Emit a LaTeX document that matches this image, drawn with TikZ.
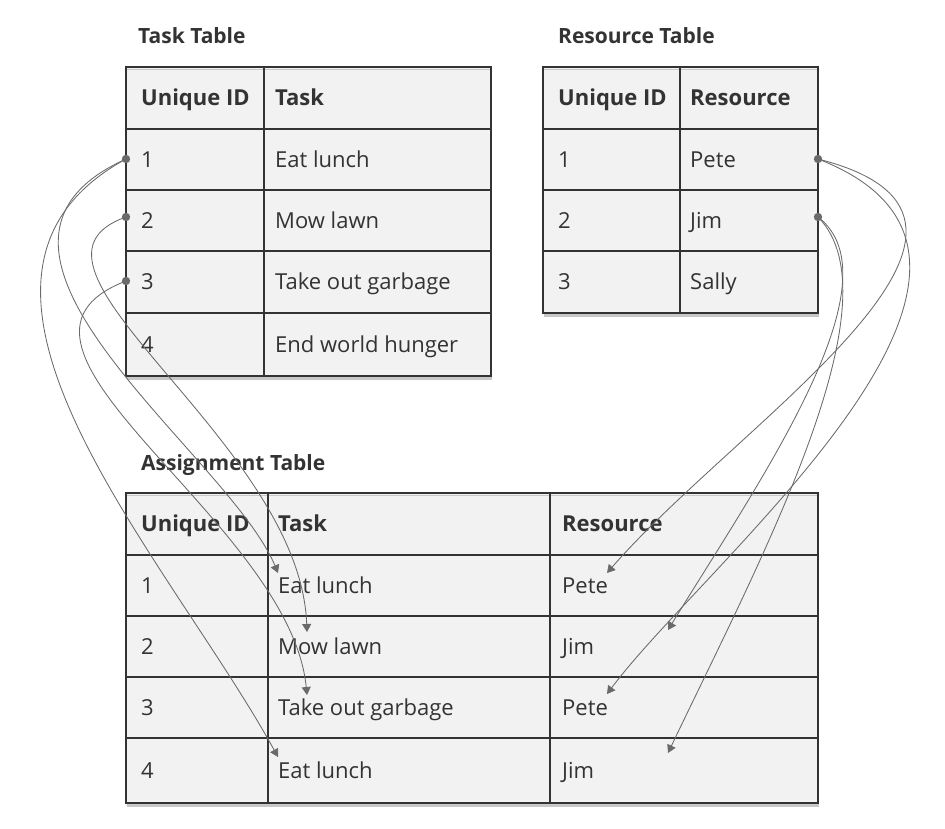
\documentclass[tikz,border=0pt]{standalone}
\usepackage{fontspec}
\setmainfont{Open Sans}
\usetikzlibrary{arrows.meta}
\definecolor{txt}{HTML}{333333}
\definecolor{cellfill}{HTML}{F2F2F2}
\definecolor{edgecol}{HTML}{333333}
\definecolor{shadowcol}{HTML}{C8C8C8}
\definecolor{linkgray}{HTML}{6A6A6A}
\begin{document}
\begin{tikzpicture}[x=1pt,y=-1pt,
  every node/.style={text=txt, inner sep=0pt},
  tabtitle/.style={anchor=base west, font=\fontsize{21}{25}\selectfont\bfseries},
  hd/.style={anchor=west, font=\fontsize{22}{26}\selectfont\bfseries, text height=15.5pt, text depth=0pt},
  cl/.style={anchor=west, font=\fontsize{22}{26}\selectfont, text height=15.5pt, text depth=0pt},
  tblborder/.style={draw=edgecol, line width=2.6pt},
  thicksep/.style={draw=edgecol, line width=2.4pt},
  thinsep/.style={draw=edgecol, line width=1.3pt},
  innerlight/.style={draw=shadowcol, line width=1.4pt},
  conn/.style={draw=linkgray, line width=0.85pt, -{Triangle[length=8pt,width=9pt]}},
  dotfill/.style={fill=linkgray},
]
\useasboundingbox (0,0) rectangle (945,828);

% ---------- Task table ----------
\node[tabtitle] (ttitle) at (138,43) {Task Table};
\fill[shadowcol] (127,70) rectangle (492,379.5);
\fill[cellfill] (126,67) rectangle (491,376);
\draw[innerlight] (127,69.6) -- (490,69.6);
\draw[thinsep] (126,190) -- (491,190) (126,251) -- (491,251) (126,313) -- (491,313);
\draw[thicksep] (126,129) -- (491,129) (264,67) -- (264,376);
\draw[tblborder] (126,67) rectangle (491,376);
\node[hd] (th1) at (141,98) {Unique ID};
\node[hd] (th2) at (275,98) {Task};
\node[cl] (t1a) at (141,159.5) {1};
\node[cl] (t1b) at (275,159.5) {Eat lunch};
\node[cl] (t2a) at (141,220.5) {2};
\node[cl] (t2b) at (275,220.5) {Mow lawn};
\node[cl] (t3a) at (141,282) {3};
\node[cl] (t3b) at (275,282) {Take out garbage};
\node[cl] (t4a) at (141,344.5) {4};
\node[cl] (t4b) at (275,344.5) {End world hunger};

% ---------- Resource table ----------
\node[tabtitle] (rtitle) at (558,43) {Resource Table};
\fill[shadowcol] (544,70) rectangle (819,316.5);
\fill[cellfill] (543,67) rectangle (818,313);
\draw[innerlight] (544,69.6) -- (817,69.6);
\draw[thinsep] (543,190) -- (818,190) (543,251) -- (818,251);
\draw[thicksep] (543,129) -- (818,129) (680,67) -- (680,313);
\draw[tblborder] (543,67) rectangle (818,313);
\node[hd] (rh1) at (558,98) {Unique ID};
\node[hd] (rh2) at (690,98) {Resource};
\node[cl] (r1a) at (558,159.5) {1};
\node[cl] (r1b) at (690,159.5) {Pete};
\node[cl] (r2a) at (558,220.5) {2};
\node[cl] (r2b) at (690,220.5) {Jim};
\node[cl] (r3a) at (558,282) {3};
\node[cl] (r3b) at (690,282) {Sally};

% ---------- Assignment table ----------
\node[tabtitle] (atitle) at (141,470) {Assignment Table};
\fill[shadowcol] (127,496) rectangle (819,806.5);
\fill[cellfill] (126,493) rectangle (818,803);
\draw[innerlight] (127,495.6) -- (817,495.6);
\draw[thinsep] (126,616) -- (818,616) (126,677) -- (818,677) (126,738) -- (818,738);
\draw[thicksep] (126,555) -- (818,555) (268,493) -- (268,803) (550,493) -- (550,803);
\draw[tblborder] (126,493) rectangle (818,803);
\node[hd] (ah1) at (141,524) {Unique ID};
\node[hd] (ah2) at (278,524) {Task};
\node[hd] (ah3) at (562,524) {Resource};
\node[cl] (a1a) at (141,585.5) {1};
\node[cl] (a1b) at (278,585.5) {Eat lunch};
\node[cl] (a1c) at (562,585.5) {Pete};
\node[cl] (a2a) at (141,646.5) {2};
\node[cl] (a2b) at (278,646.5) {Mow lawn};
\node[cl] (a2c) at (562,646.5) {Jim};
\node[cl] (a3a) at (141,707.5) {3};
\node[cl] (a3b) at (278,707.5) {Take out garbage};
\node[cl] (a3c) at (562,707.5) {Pete};
\node[cl] (a4a) at (141,770.5) {4};
\node[cl] (a4b) at (278,770.5) {Eat lunch};
\node[cl] (a4c) at (562,770.5) {Jim};

% ---------- connector ends ----------
\coordinate (tdot1) at (126,159);
\coordinate (tdot2) at (126,217);
\coordinate (tdot3) at (126,281);
\coordinate (rdot1) at (818,159);
\coordinate (rdot2) at (818,217);
\coordinate (aT1) at (278,573);
\coordinate (aT2) at (307,632);
\coordinate (aT3) at (307,695);
\coordinate (aT4) at (278,757);
\coordinate (aR1) at (607,573);
\coordinate (aR2) at (668,630);
\coordinate (aR3) at (607,694);
\coordinate (aR4) at (668,753);

% ---------- connectors ----------
\draw[conn] (tdot1) .. controls +(-200,90) and +(-50,-120) .. (aT1);
\draw[conn] (tdot1) .. controls +(-220,120) and +(-110,-200) .. (aT4);
\draw[conn] (tdot2) .. controls +(-136,48) and +(-7,-192) .. (aT2);
\draw[conn] (tdot3) .. controls +(-166,64) and +(-17,-175) .. (aT3);
\draw[conn] (rdot1) .. controls +(242,61) and +(133,-153) .. (aR1);
\draw[conn] (rdot1) .. controls +(262,101) and +(100,-134) .. (aR3);
\draw[conn] (rdot2) .. controls +(82,63) and +(92,-150) .. (aR2);
\draw[conn] (rdot2) .. controls +(82,83) and +(92,-193) .. (aR4);

\fill[dotfill] (tdot1) circle (4.2);
\fill[dotfill] (tdot2) circle (4.2);
\fill[dotfill] (tdot3) circle (4.2);
\fill[dotfill] (rdot1) circle (4.2);
\fill[dotfill] (rdot2) circle (4.2);
\end{tikzpicture}
\end{document}
